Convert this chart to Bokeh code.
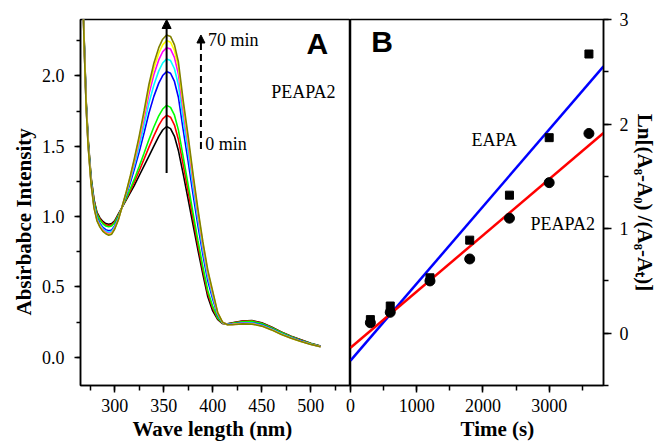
import numpy as np
from bokeh.plotting import figure
from bokeh.layouts import row
from bokeh.models import (Range1d, SingleIntervalTicker, NumeralTickFormatter, Label, Title,
                          Arrow, NormalHead)
from bokeh.embed import file_html
from bokeh.resources import INLINE

# ---------------- data: panel A (absorbance spectra, 0 ... 70 min) ----------------
wavelength_nm = [267, 269, 271, 273, 276, 279, 282, 285, 288, 291, 294, 297, 300, 304, 308, 312,
                 316, 320, 325, 330, 335, 340, 345, 349, 353, 357, 361, 365, 370, 375, 380, 385,
                 390, 395, 400, 405, 410, 415, 420, 430, 440, 450, 460, 470, 480, 490, 500, 510]
abs_black = [2.75, 2.25, 1.82, 1.55, 1.28, 1.12, 1.03, 0.99, 0.965, 0.95, 0.945, 0.95, 0.97, 1.02, 1.07, 1.12,
             1.17, 1.22, 1.29, 1.36, 1.43, 1.50, 1.57, 1.615, 1.64, 1.625, 1.57, 1.47, 1.30, 1.12, 0.94, 0.76,
             0.59, 0.43, 0.33, 0.27, 0.24, 0.238, 0.245, 0.258, 0.262, 0.245, 0.215, 0.18, 0.15, 0.125, 0.10, 0.08]
abs_red = [2.74, 2.24, 1.81, 1.54, 1.27, 1.113, 1.023, 0.982, 0.956, 0.941, 0.936, 0.941, 0.963, 1.015, 1.071, 1.127,
           1.185, 1.243, 1.324, 1.408, 1.493, 1.573, 1.648, 1.694, 1.72, 1.706, 1.65, 1.548, 1.364, 1.175, 0.984, 0.796,
           0.618, 0.453, 0.347, 0.276, 0.241, 0.237, 0.243, 0.256, 0.259, 0.242, 0.213, 0.178, 0.148, 0.123, 0.099, 0.079]
abs_green = [2.738, 2.238, 1.808, 1.538, 1.268, 1.106, 1.016, 0.975, 0.949, 0.933, 0.927, 0.933, 0.956, 1.011, 1.072, 1.134,
             1.198, 1.264, 1.355, 1.450, 1.548, 1.636, 1.716, 1.764, 1.790, 1.776, 1.720, 1.616, 1.420, 1.224, 1.023, 0.827,
             0.643, 0.474, 0.362, 0.282, 0.242, 0.237, 0.242, 0.253, 0.256, 0.240, 0.210, 0.176, 0.147, 0.122, 0.098, 0.079]
abs_blue = [2.72, 2.22, 1.79, 1.52, 1.25, 1.084, 0.994, 0.951, 0.923, 0.907, 0.899, 0.905, 0.934, 0.996, 1.076, 1.156,
            1.242, 1.334, 1.458, 1.594, 1.736, 1.854, 1.948, 2.002, 2.03, 2.018, 1.96, 1.848, 1.612, 1.39, 1.156, 0.934,
            0.728, 0.544, 0.414, 0.30, 0.246, 0.234, 0.237, 0.246, 0.246, 0.231, 0.203, 0.170, 0.141, 0.117, 0.095, 0.077]
abs_cyan = [2.713, 2.213, 1.783, 1.513, 1.243, 1.076, 0.986, 0.942, 0.913, 0.897, 0.888, 0.895, 0.926, 0.991, 1.077, 1.164,
            1.259, 1.360, 1.497, 1.648, 1.806, 1.935, 2.035, 2.091, 2.120, 2.108, 2.050, 1.935, 1.684, 1.452, 1.206, 0.974,
            0.760, 0.570, 0.433, 0.307, 0.247, 0.234, 0.235, 0.243, 0.243, 0.228, 0.200, 0.167, 0.139, 0.115, 0.094, 0.076]
abs_magenta = [2.707, 2.207, 1.777, 1.507, 1.237, 1.068, 0.978, 0.934, 0.905, 0.888, 0.879, 0.885, 0.918, 0.986, 1.079, 1.172,
               1.273, 1.384, 1.531, 1.696, 1.870, 2.009, 2.113, 2.171, 2.200, 2.190, 2.130, 2.013, 1.748, 1.508, 1.250, 1.010,
               0.788, 0.594, 0.451, 0.313, 0.249, 0.233, 0.234, 0.241, 0.240, 0.225, 0.198, 0.165, 0.137, 0.114, 0.093, 0.076]
abs_yellow = [2.703, 2.203, 1.773, 1.503, 1.233, 1.064, 0.974, 0.929, 0.899, 0.882, 0.873, 0.880, 0.914, 0.983, 1.079, 1.176,
              1.283, 1.398, 1.553, 1.726, 1.908, 2.053, 2.161, 2.220, 2.250, 2.239, 2.180, 2.061, 1.788, 1.542, 1.278, 1.032,
              0.806, 0.608, 0.461, 0.317, 0.249, 0.232, 0.233, 0.239, 0.238, 0.223, 0.196, 0.164, 0.136, 0.113, 0.093, 0.075]
abs_olive = [2.70, 2.20, 1.77, 1.50, 1.23, 1.06, 0.97, 0.925, 0.895, 0.878, 0.868, 0.875, 0.91, 0.98, 1.08, 1.18,
             1.29, 1.41, 1.57, 1.75, 1.94, 2.09, 2.20, 2.26, 2.29, 2.28, 2.22, 2.10, 1.82, 1.57, 1.30, 1.05,
             0.82, 0.62, 0.47, 0.32, 0.25, 0.232, 0.232, 0.238, 0.236, 0.222, 0.195, 0.163, 0.135, 0.112, 0.092, 0.075]
spectra = [abs_black, abs_red, abs_green, abs_blue, abs_cyan, abs_magenta, abs_yellow, abs_olive]
spectra_colors = ["#000000", "#ff0000", "#00ff00", "#0000ff", "#00ffff", "#ff00ff", "#ffff00", "#808000"]

# ---------------- data: panel B (kinetics) ----------------
time_s = [300, 600, 1200, 1800, 2400, 3000, 3600]
ln_eapa = [0.13, 0.26, 0.53, 0.89, 1.32, 1.87, 2.67]
ln_peapa2 = [0.10, 0.20, 0.50, 0.71, 1.10, 1.44, 1.91]

SERIF = "'Liberation Serif', 'Times New Roman', Times, serif"
SANS = "'Liberation Sans', Arial, sans-serif"


def style_axis(ax, tick_out=7, minor_out=4):
    ax.axis_line_width = 1.5
    ax.axis_line_color = "black"
    ax.major_tick_line_width = 1.5
    ax.minor_tick_line_width = 1.5
    ax.major_tick_in = 0
    ax.major_tick_out = tick_out
    ax.minor_tick_in = 0
    ax.minor_tick_out = minor_out
    ax.major_label_text_font = SERIF
    ax.major_label_text_font_size = "18px"
    ax.major_label_text_color = "black"


def add_text(p, txt, x, y, font=SERIF, size="18px", style="normal"):
    p.add_layout(Label(x=x, y=y, text=txt, text_font=font, text_font_size=size,
                       text_font_style=style, text_baseline="middle", text_align="left",
                       text_color="black"))


def axis_title(p, txt, side, align, offset, standoff):
    p.add_layout(Title(text=txt, align=align, offset=offset, standoff=standoff,
                       text_font=SERIF, text_font_size="21px", text_font_style="bold",
                       text_color="black"), side)


# ---------------- panel A ----------------
pA = figure(width=350, height=445, x_range=Range1d(265.2, 540.5), y_range=Range1d(-0.2, 2.4),
            output_backend="svg", toolbar_location=None,
            min_border_left=80, min_border_right=0, min_border_top=19, min_border_bottom=60)
pA.grid.visible = False
pA.outline_line_color = "black"
pA.outline_line_width = 1.5
pA.border_fill_color = None

pA.xaxis.ticker = SingleIntervalTicker(interval=50, num_minor_ticks=2)
pA.yaxis.ticker = SingleIntervalTicker(interval=0.5, num_minor_ticks=2)
pA.yaxis.formatter = NumeralTickFormatter(format="0.0")
style_axis(pA.xaxis[0], 7, 5)
style_axis(pA.yaxis[0], 6, 4)
pA.xaxis.major_label_standoff = 6
pA.yaxis.major_label_standoff = 10
axis_title(pA, "Wave length (nm)", "below", "left", 52, 1)
axis_title(pA, "Absirbabce Intensity", "left", "left", 70, 5)

for vals, col in zip(spectra, spectra_colors):
    pA.line(wavelength_nm, vals, line_color=col, line_width=1.6)

pA.add_layout(Arrow(end=NormalHead(size=9, fill_color="black", line_color="black", line_width=1),
                    x_start=353, y_start=1.31, x_end=353, y_end=2.40,
                    line_color="black", line_width=2))
pA.add_layout(Arrow(end=NormalHead(size=8, fill_color="black", line_color="black", line_width=1),
                    x_start=388, y_start=1.48, x_end=388, y_end=2.29,
                    line_color="black", line_width=2, line_dash="7 4"))

add_text(pA, "70 min", 395.2, 2.253)
add_text(pA, "0 min", 392.4, 1.516)
add_text(pA, "PEAPA2", 459.7, 1.883)
add_text(pA, "A", 495.6, 2.23, font=SANS, size="30px", style="bold")

# ---------------- panel B ----------------
pB = figure(width=329, height=445, x_range=Range1d(0, 3820), y_range=Range1d(-0.5, 3.0),
            output_backend="svg", toolbar_location=None, y_axis_location="right",
            min_border_left=20, min_border_right=52, min_border_top=19, min_border_bottom=60)
pB.grid.visible = False
pB.outline_line_color = "black"
pB.outline_line_width = 1.5
pB.border_fill_color = None
try:
    pB.margin = (0, 0, 0, -20)
except Exception:
    pB.styles = {"margin-left": "-20px"}

pB.xaxis.ticker = SingleIntervalTicker(interval=1000, num_minor_ticks=2)
pB.yaxis.ticker = SingleIntervalTicker(interval=1, num_minor_ticks=2)
style_axis(pB.xaxis[0], 7, 5)
style_axis(pB.yaxis[0], 8, 5)
pB.xaxis.major_label_standoff = 6
pB.yaxis.major_label_standoff = 8
axis_title(pB, "Time (s)", "below", "left", 110, 1)
axis_title(pB, "Ln[(A\u2088-A\u2080) /(A\u2088-A\u209c)]", "right", "center", 0, 2)

t_line = [pB.x_range.start, pB.x_range.end]
k_e, b_e = np.polyfit(time_s, ln_eapa, 1)
k_p, b_p = np.polyfit(time_s, ln_peapa2, 1)
pB.line(t_line, [b_e + k_e * t for t in t_line], line_color="#0000ff", line_width=2.5)
pB.line(t_line, [b_p + k_p * t for t in t_line], line_color="#ff0000", line_width=2.5)
pB.scatter(time_s, ln_eapa, marker="square", size=8, fill_color="black", line_color="black")
pB.scatter(time_s, ln_peapa2, marker="circle", size=10, fill_color="black", line_color="black")

add_text(pB, "B", 312, 2.785, font=SANS, size="30px", style="bold")
add_text(pB, "EAPA", 1828, 1.849)
add_text(pB, "PEAPA2", 2719, 1.046)

layout = row(pA, pB)
open("out.html", "w").write(file_html(layout, INLINE))
